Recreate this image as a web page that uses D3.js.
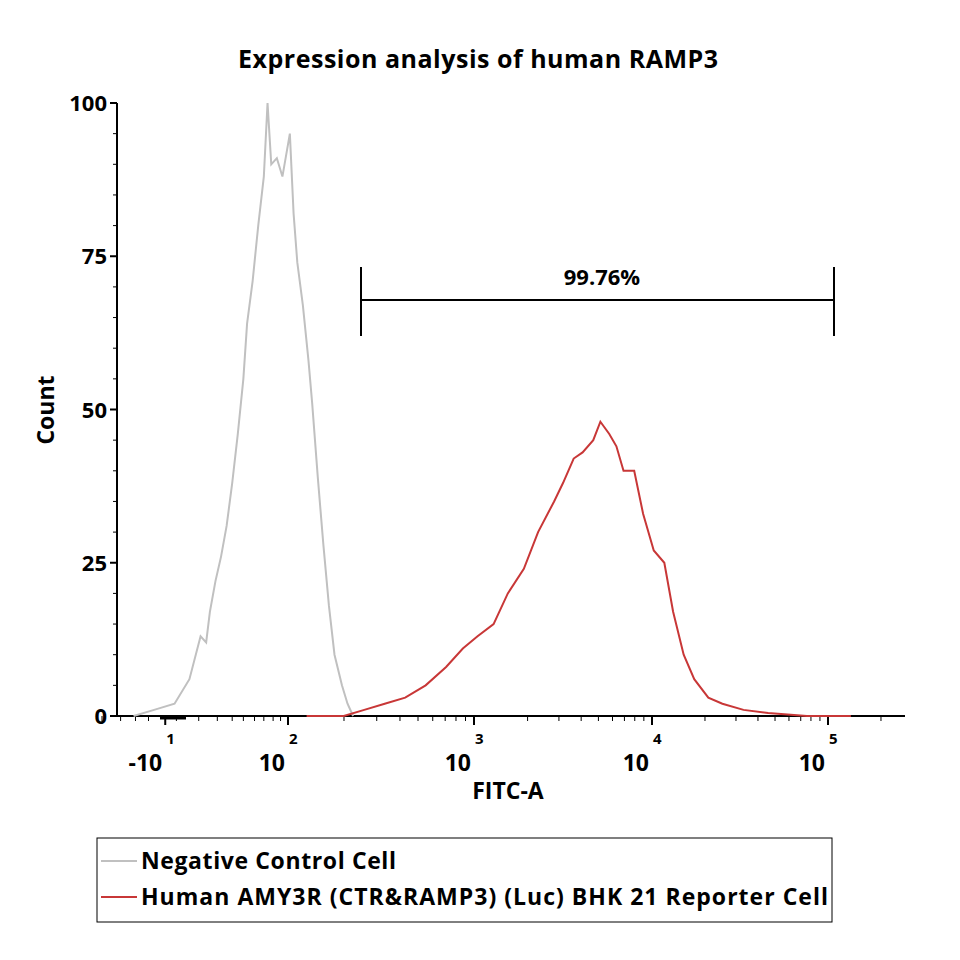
<!DOCTYPE html>
<html><head><meta charset="utf-8">
<script src="https://cdn.jsdelivr.net/npm/d3@7"></script>
<style>body{margin:0;background:#fff}text{font-family:"Open Sans",sans-serif;font-weight:bold}</style>
</head><body><svg id="c" width="960" height="960"></svg>
<script>
// x values in display "decade" units (2 = 10^2), -10 sits at 1.34
var grayX = [1.17,1.28,1.39,1.47,1.53,1.56,1.58,1.61,1.64,1.67,1.7,1.73,1.76,1.78,1.81,1.84,1.87,1.89,1.91,1.94,1.97,2.01,2.03,2.05,2.08,2.11,2.13,2.16,2.19,2.22,2.25,2.29,2.32,2.35];
var grayY = [0,1,2,6,13,12,17,22,26,31,38,46,55,64,71,80,88,100,90,91,88,95,82,74,67,58,51,39,28,18,10,5,2,0];
var redX = [2.1,2.3,2.41,2.52,2.63,2.74,2.85,2.94,3.02,3.11,3.19,3.28,3.36,3.45,3.5,3.56,3.61,3.67,3.71,3.76,3.8,3.84,3.9,3.95,4.01,4.07,4.12,4.18,4.24,4.32,4.4,4.52,4.66,4.88,5.13];
var redY = [0,0,1,2,3,5,8,11,13,15,20,24,30,35,38,42,43,45,48,46,44,40,40,33,27,25,17,10,6,3,2,1,0.5,0,0];
var yTicks = [0,25,50,75,100];
var xMajor = [1.34,2,3,4,5];
var xExp = ["1","2","3","4","5"];
var xBase = ["-10","10","10","10","10"];

var svg = d3.select("#c");
var x = d3.scaleLinear().domain([2,3,4,5]).range([288,474,652,828]);
var y = d3.scaleLinear().domain([0,100]).range([716,103]);

svg.append("text").attr("x",478).attr("y",68).attr("text-anchor","middle").style("font-size","25px").attr("textLength",480).text("Expression analysis of human RAMP3");

// axes
svg.append("line").attr("x1",117).attr("x2",905).attr("y1",716).attr("y2",716).attr("stroke","#000").attr("stroke-width",2);
svg.append("line").attr("x1",117).attr("x2",117).attr("y1",103).attr("y2",716).attr("stroke","#000").attr("stroke-width",2);

yTicks.forEach(function(v){
  svg.append("line").attr("x1",110).attr("x2",117).attr("y1",y(v)).attr("y2",y(v)).attr("stroke","#000").attr("stroke-width",2);
  svg.append("text").attr("x",107).attr("y",y(v)+8).attr("text-anchor","end").style("font-size","22px").text(v);
});
d3.range(0,100,5).forEach(function(v){
  if (v%25) svg.append("line").attr("x1",113).attr("x2",117).attr("y1",y(v)).attr("y2",y(v)).attr("stroke","#000");
});

// minor x ticks
var minor = [];
[2,3,4,5].forEach(function(d){ for (var k=2;k<10;k++){ var t=d+Math.log10(k); if (t<5.45) minor.push(t);} });
[1.4,1.52,1.62,1.7,1.76,1.82,1.87,1.92,1.96,1.25,1.18,1.1,1.0].forEach(function(t){minor.push(t)});
minor.forEach(function(t){
  svg.append("line").attr("x1",x(t)).attr("x2",x(t)).attr("y1",716).attr("y2",721).attr("stroke","#000");
});
xMajor.forEach(function(t,i){
  svg.append("line").attr("x1",x(t)).attr("x2",x(t)).attr("y1",716).attr("y2",725).attr("stroke","#000").attr("stroke-width",2);
  svg.append("text").attr("x",x(t)-3).attr("y",771).attr("text-anchor","end").style("font-size","23px").text(xBase[i]);
  svg.append("text").attr("x",x(t)+1).attr("y",744).style("font-size","15px").text(xExp[i]);
});
svg.append("line").attr("x1",160).attr("x2",186).attr("y1",718).attr("y2",718).attr("stroke","#000").attr("stroke-width",3);

svg.append("text").attr("x",508).attr("y",799).attr("text-anchor","middle").style("font-size","23px").text("FITC-A");
svg.append("text").attr("transform","translate(54,410) rotate(-90)").attr("text-anchor","middle").style("font-size","23px").text("Count");

var line = d3.line().x(function(d){return x(d[0])}).y(function(d){return y(d[1])});
svg.append("path").datum(d3.zip(grayX,grayY)).attr("d",line).attr("fill","none").attr("stroke","#c0c0c0").attr("stroke-width",2);
svg.append("path").datum(d3.zip(redX,redY)).attr("d",line).attr("fill","none").attr("stroke","#c83737").attr("stroke-width",2);

// gate
var g1 = 361, g2 = 834, gy = 300;
svg.append("line").attr("x1",g1).attr("x2",g2).attr("y1",gy).attr("y2",gy).attr("stroke","#000").attr("stroke-width",2);
[g1,g2].forEach(function(p){ svg.append("line").attr("x1",p).attr("x2",p).attr("y1",267).attr("y2",336).attr("stroke","#000").attr("stroke-width",2); });
svg.append("text").attr("x",602).attr("y",285).attr("text-anchor","middle").style("font-size","22px").text("99.76%");

// legend
svg.append("rect").attr("x",97).attr("y",838).attr("width",735).attr("height",84).attr("fill","none").attr("stroke","#000");
var legNames = ["Negative Control Cell","Human AMY3R (CTR&RAMP3) (Luc) BHK 21 Reporter Cell"];
var legCols = ["#c0c0c0","#c83737"];
var legLen = [255,687];
legNames.forEach(function(n,i){
  var ly = 861 + i*36;
  svg.append("line").attr("x1",101).attr("x2",137).attr("y1",ly).attr("y2",ly).attr("stroke",legCols[i]).attr("stroke-width",2);
  svg.append("text").attr("x",141).attr("y",ly+8).style("font-size","23px").attr("textLength",legLen[i]).text(n);
});
</script></body></html>
